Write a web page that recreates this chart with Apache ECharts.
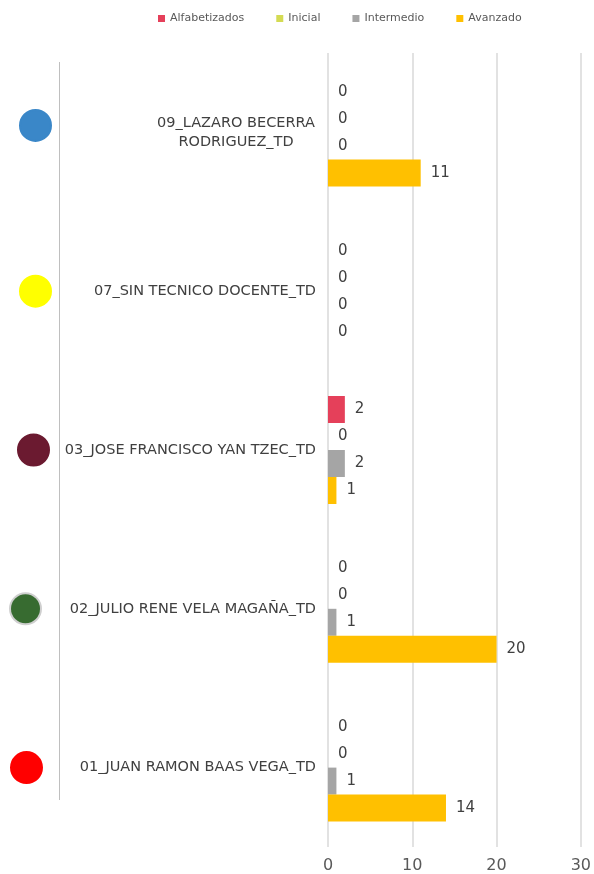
<!DOCTYPE html>
<html>
<head>
<meta charset="utf-8">
<script src="https://cdn.jsdelivr.net/npm/echarts@6/dist/echarts.min.js"></script>
<style>html,body{margin:0;padding:0;background:#fff;}#c{width:594px;height:874px;}</style>
</head>
<body>
<div id="c"></div>
<script>
// categories listed top to bottom
var categories = ['09_LAZARO BECERRA\nRODRIGUEZ_TD', '07_SIN TECNICO DOCENTE_TD', '03_JOSE FRANCISCO YAN TZEC_TD', '02_JULIO RENE VELA MAGAÑA_TD', '01_JUAN RAMON BAAS VEGA_TD'];
var seriesNames = ['Alfabetizados', 'Inicial', 'Intermedio', 'Avanzado'];
var alfabetizados = [0, 0, 2, 0, 0];
var inicial = [0, 0, 0, 0, 0];
var intermedio = [0, 0, 2, 1, 1];
var avanzado = [11, 0, 1, 20, 14];
var xTicks = [0, 10, 20, 30];

var seriesColors = ['#E5405A', '#D4DB53', '#A5A5A5', '#FFC000'];
var circleColors = ['#3A87C8', '#FFFF00', '#6B1A30', '#376B30', '#FF0000'];
var circleBorders = ['#3A87C8', '#FFFF00', '#6B1A30', '#CFCFCF', '#FF0000'];
var circleShift = [0, 0, 2, 10, 9];
var circleLift = [14, 0, 0, 0, 0];

var FONT = 'DejaVu Sans';
var chart = echarts.init(document.getElementById('c'));

var circleRich = { s0: {width: 0}, s2: {width: 2}, s9: {width: 9}, s10: {width: 10}, e: {height: 14} };
categories.forEach(function (c, i) {
  circleRich['c' + i] = {
    width: 29, height: 29, borderRadius: 17,
    backgroundColor: circleColors[i], borderColor: circleBorders[i], borderWidth: 2
  };
});

var dataSeries = [alfabetizados, inicial, intermedio, avanzado];
var series = dataSeries.map(function (d, i) {
  return {
    name: seriesNames[i], type: 'bar', data: d,
    barWidth: 27, barGap: '0%', barCategoryGap: '31%',
    itemStyle: {color: seriesColors[i]},
    label: {show: true, position: 'right', distance: 10, color: '#404040', fontFamily: FONT, fontSize: 15},
    xAxisIndex: 0, yAxisIndex: 0
  };
});

chart.setOption({
  animation: false,
  textStyle: {fontFamily: FONT},
  legend: {
    top: 8, left: 153, itemWidth: 7, itemHeight: 7, itemGap: 32,
    icon: 'rect', textStyle: {fontFamily: FONT, fontSize: 11, color: '#595959'},
    data: seriesNames
  },
  grid: {left: 328, right: 12, top: 53, bottom: 26, containLabel: false},
  xAxis: {
    type: 'value', min: xTicks[0], max: xTicks[xTicks.length - 1], interval: 10,
    axisLine: {show: false}, axisTick: {show: false},
    splitLine: {lineStyle: {color: '#D9D9D9', width: 1.5}},
    axisLabel: {color: '#595959', fontSize: 16, fontFamily: FONT, margin: 11}
  },
  yAxis: [{
    type: 'category', data: categories, inverse: true,
    axisLine: {show: false}, axisTick: {show: false},
    axisLabel: {
      color: '#404040', fontSize: 14.5, fontFamily: FONT, margin: 12, lineHeight: 19,
      formatter: function (v) {
        if (v.indexOf('\n') >= 0) {
          return v.split('\n').map(function (l) { return '{l|' + l + '}'; }).join('\n');
        }
        return v;
      },
      rich: {l: {width: 160, align: 'center', fontSize: 14.5, fontFamily: FONT, color: '#404040', lineHeight: 19}}
    }
  }, {
    type: 'category', data: categories, inverse: true, position: 'left', offset: 270,
    axisLine: {show: false}, axisTick: {show: false},
    axisLabel: {
      margin: 8,
      formatter: function (v, i) {
        var s = '{c' + i + '|}{s' + circleShift[i] + '|}';
        if (circleLift[i]) s += '\n{e|}';
        return s;
      },
      rich: circleRich
    }
  }],
  graphic: [{
    type: 'line', shape: {x1: 59.5, y1: 62, x2: 59.5, y2: 800},
    style: {stroke: '#BFBFBF', lineWidth: 1}
  }],
  series: series
});
</script>
</body>
</html>
